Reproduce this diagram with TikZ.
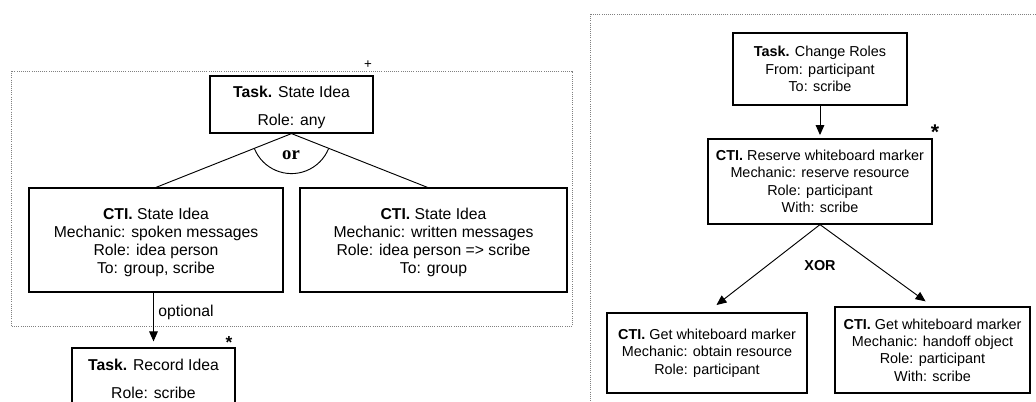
\documentclass[tikz,border=0pt]{standalone}
\usepackage{fontspec}
\setmainfont{Liberation Sans}
\newfontfamily\orserif{Liberation Serif}
\usetikzlibrary{calc,arrows.meta}
\newcommand{\lowr}{\rule{0pt}{12.5pt}}

\begin{document}
\begin{tikzpicture}[x=0.75pt, y=0.75pt,
  box/.style={draw, line width=0.9pt, align=center, inner sep=0pt},
  leftfont/.style={font=\fontsize{11.8}{13.5}\selectfont},
  rightfont/.style={font=\fontsize{10.8}{13}\selectfont},
  frame/.style={draw=gray, densely dotted, line width=0.6pt},
  arr/.style={-{Triangle[length=7.5pt, width=6.5pt]}, line width=0.7pt}]
  \useasboundingbox (0,0) rectangle (1036,-402);
  \clip (0,0) rectangle (1036,-402);

  % Dotted frames
  \draw[frame] (11,-71) rectangle (572,-326);
  \draw[frame] (590,-14) rectangle (1045,-410);

  % Left part: state idea
  \node[box, leftfont, minimum width=122.25pt, minimum height=42.75pt] (state) at (291.5,-104.5)
    {\lowr\textbf{Task.} State Idea\\[7.5pt] Role: any};
  \node[font=\fontsize{10}{10}\selectfont] (plus) at (368,-65) {+};
  \node[box, leftfont, minimum width=190.5pt, minimum height=78pt] (spoken) at (156,-240)
    {\lowr\textbf{CTI.} State Idea\\ Mechanic: spoken messages\\ Role: idea person\\ To: group, scribe};
  \node[box, leftfont, minimum width=200.25pt, minimum height=78pt] (written) at (433.5,-240)
    {\lowr\textbf{CTI.} State Idea\\ Mechanic: written messages\\ Role: idea person => scribe\\ To: group};
  \node[box, leftfont, minimum width=122.25pt, minimum height=42.75pt] (record) at (153.5,-376.5)
    {\lowr\textbf{Task.} Record Idea\\[7.5pt] Role: scribe};
  \node[font=\fontsize{13}{13}\selectfont\bfseries] (recstar) at (229,-343) {*};

  % or branch
  \draw[line width=0.7pt] (spoken.north) -- (state.south) -- ($(written.north)+(-6,0)$);
  \draw[line width=0.7pt] ([shift={(202:30pt)}]state.south) arc[start angle=202, end angle=338, radius=30pt];
  \node[font=\orserif\fontsize{14}{14}\selectfont\bfseries] (or) at (291,-155) {or};
  \draw[arr, shorten >=4.5pt] (record.north |- spoken.south) -- node[leftfont, right, pos=0.36] {optional} (record.north);

  % Right part: change roles
  \node[box, rightfont, minimum width=130.5pt, minimum height=54pt] (change) at (820,-69)
    {\textbf{Task.} Change Roles\\ From: participant\\ To: scribe};
  \node[box, rightfont, minimum width=168pt, minimum height=63.75pt] (reserve) at (820,-181.5)
    {\textbf{CTI.} Reserve whiteboard marker\\ Mechanic: reserve resource\\ Role: participant\\ With: scribe};
  \node[font=\fontsize{16}{16}\selectfont\bfseries] (resstar) at (935,-132) {*};
  \node[box, rightfont, minimum width=150pt, minimum height=60pt] (obtain) at (707,-353)
    {\textbf{CTI.} Get whiteboard marker\\ Mechanic: obtain resource\\ Role: participant};
  \node[box, rightfont, minimum width=146.25pt, minimum height=64.5pt] (handoff) at (932.5,-350)
    {\textbf{CTI.} Get whiteboard marker\\ Mechanic: handoff object\\ Role: participant\\ With: scribe};

  \draw[arr, shorten >=2.5pt] (change) -- (reserve);
  \draw[arr, shorten >=9pt] (reserve.south) -- (obtain.north);
  \draw[arr, shorten >=6.4pt] (reserve.south) -- (handoff.north);
  \node[font=\fontsize{10.8}{13}\selectfont\bfseries] (xor) at (820,-266) {XOR};
\end{tikzpicture}
\end{document}
